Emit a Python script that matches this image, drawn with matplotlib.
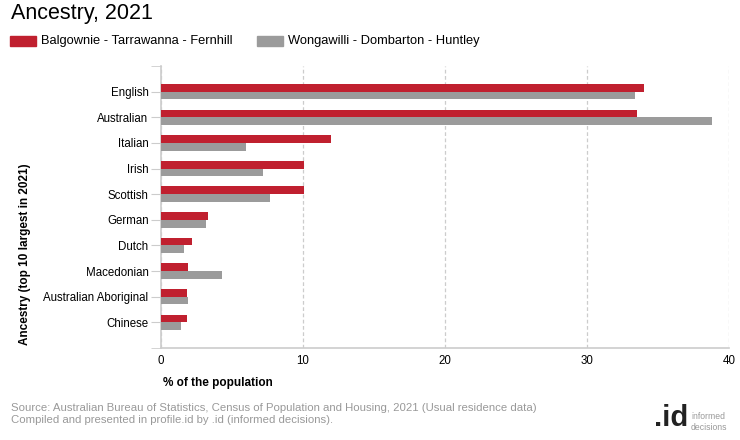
import numpy as np
import matplotlib
matplotlib.use("Agg")
import matplotlib.pyplot as plt
from matplotlib.patches import Rectangle

plt.rcParams['font.family'] = ['Liberation Sans', 'DejaVu Sans']

# data
categories = ["English", "Australian", "Italian", "Irish", "Scottish", "German",
              "Dutch", "Macedonian", "Australian Aboriginal", "Chinese"]
balgownie = [34.0, 33.5, 12.0, 10.1, 10.05, 3.3, 2.2, 1.9, 1.8, 1.8]
wongawilli = [33.4, 38.8, 6.0, 7.2, 7.7, 3.2, 1.6, 4.3, 1.9, 1.4]
series_names = ["Balgownie - Tarrawanna - Fernhill", "Wongawilli - Dombarton - Huntley"]
x_ticks = [0, 10, 20, 30, 40]

RED = "#C0202F"
GREY = "#9B9B9B"
AXC = "#CCCCCC"

fig = plt.figure(figsize=(7.4, 4.4), dpi=100)
W, H = 740, 440
# axes box in pixels: left 161, right 729, top 66, bottom 348
ax = fig.add_axes([161 / W, 1 - 348 / H, (729 - 161) / W, (348 - 66) / H])

y = np.arange(len(categories))
h = 0.30
ax.barh(y - h / 2, balgownie, height=h, color=RED, zorder=3)
ax.barh(y + h / 2, wongawilli, height=h, color=GREY, zorder=3)

ax.set_xlim(0, 40)
ax.set_ylim(10, -1)
ax.set_xticks(x_ticks)
ax.set_yticks(y)
ax.set_yticks([-1, 10], minor=True)
ax.set_yticklabels(categories, fontsize=8.3)
ax.tick_params(axis='x', labelsize=8.3, length=0, pad=5)
ax.tick_params(axis='y', which='both', length=7, color=AXC, pad=2)
ax.grid(axis='x', color=AXC, linestyle=(0, (3, 2)), linewidth=0.9, zorder=0)

for s in ["top", "right"]:
    ax.spines[s].set_visible(False)
for s in ["left", "bottom"]:
    ax.spines[s].set_color(AXC)
    ax.spines[s].set_linewidth(1.2)

fig.text(163 / W, 1 - 383 / H, "% of the population", fontsize=8.5,
         fontweight="bold", ha="left", va="center")
fig.text(25 / W, 1 - 345 / H, "Ancestry (top 10 largest in 2021)", fontsize=8.5,
         fontweight="bold", rotation=90, ha="center", va="bottom")

# title and legend
fig.text(11 / W, 1 - 14 / H, "Ancestry, 2021", fontsize=15.5, ha="left", va="center")
fig.patches.append(Rectangle((10 / W, 1 - 46 / H), 26 / W, 10 / H,
                             transform=fig.transFigure, color=RED))
fig.text(41 / W, 1 - 41 / H, series_names[0], fontsize=9.3, ha="left", va="center")
fig.patches.append(Rectangle((257 / W, 1 - 46 / H), 26 / W, 10 / H,
                             transform=fig.transFigure, color=GREY))
fig.text(288 / W, 1 - 41 / H, series_names[1], fontsize=9.3, ha="left", va="center")

# footer
fig.text(11 / W, 1 - 408 / H,
         "Source: Australian Bureau of Statistics, Census of Population and Housing, 2021 (Usual residence data)",
         fontsize=8.2, color="#999999", ha="left", va="center")
fig.text(11 / W, 1 - 420 / H,
         "Compiled and presented in profile.id by .id (informed decisions).",
         fontsize=8.2, color="#999999", ha="left", va="center")
fig.text(654 / W, 1 - 418 / H, ".id", fontsize=21, fontweight="bold",
         color="#222222", ha="left", va="center")
fig.text(691 / W, 1 - 416 / H, "informed", fontsize=6.2, color="#999999",
         ha="left", va="center")
fig.text(691 / W, 1 - 427 / H, "decisions", fontsize=6.2, color="#999999",
         ha="left", va="center")

fig.savefig("out.png", dpi=100)
